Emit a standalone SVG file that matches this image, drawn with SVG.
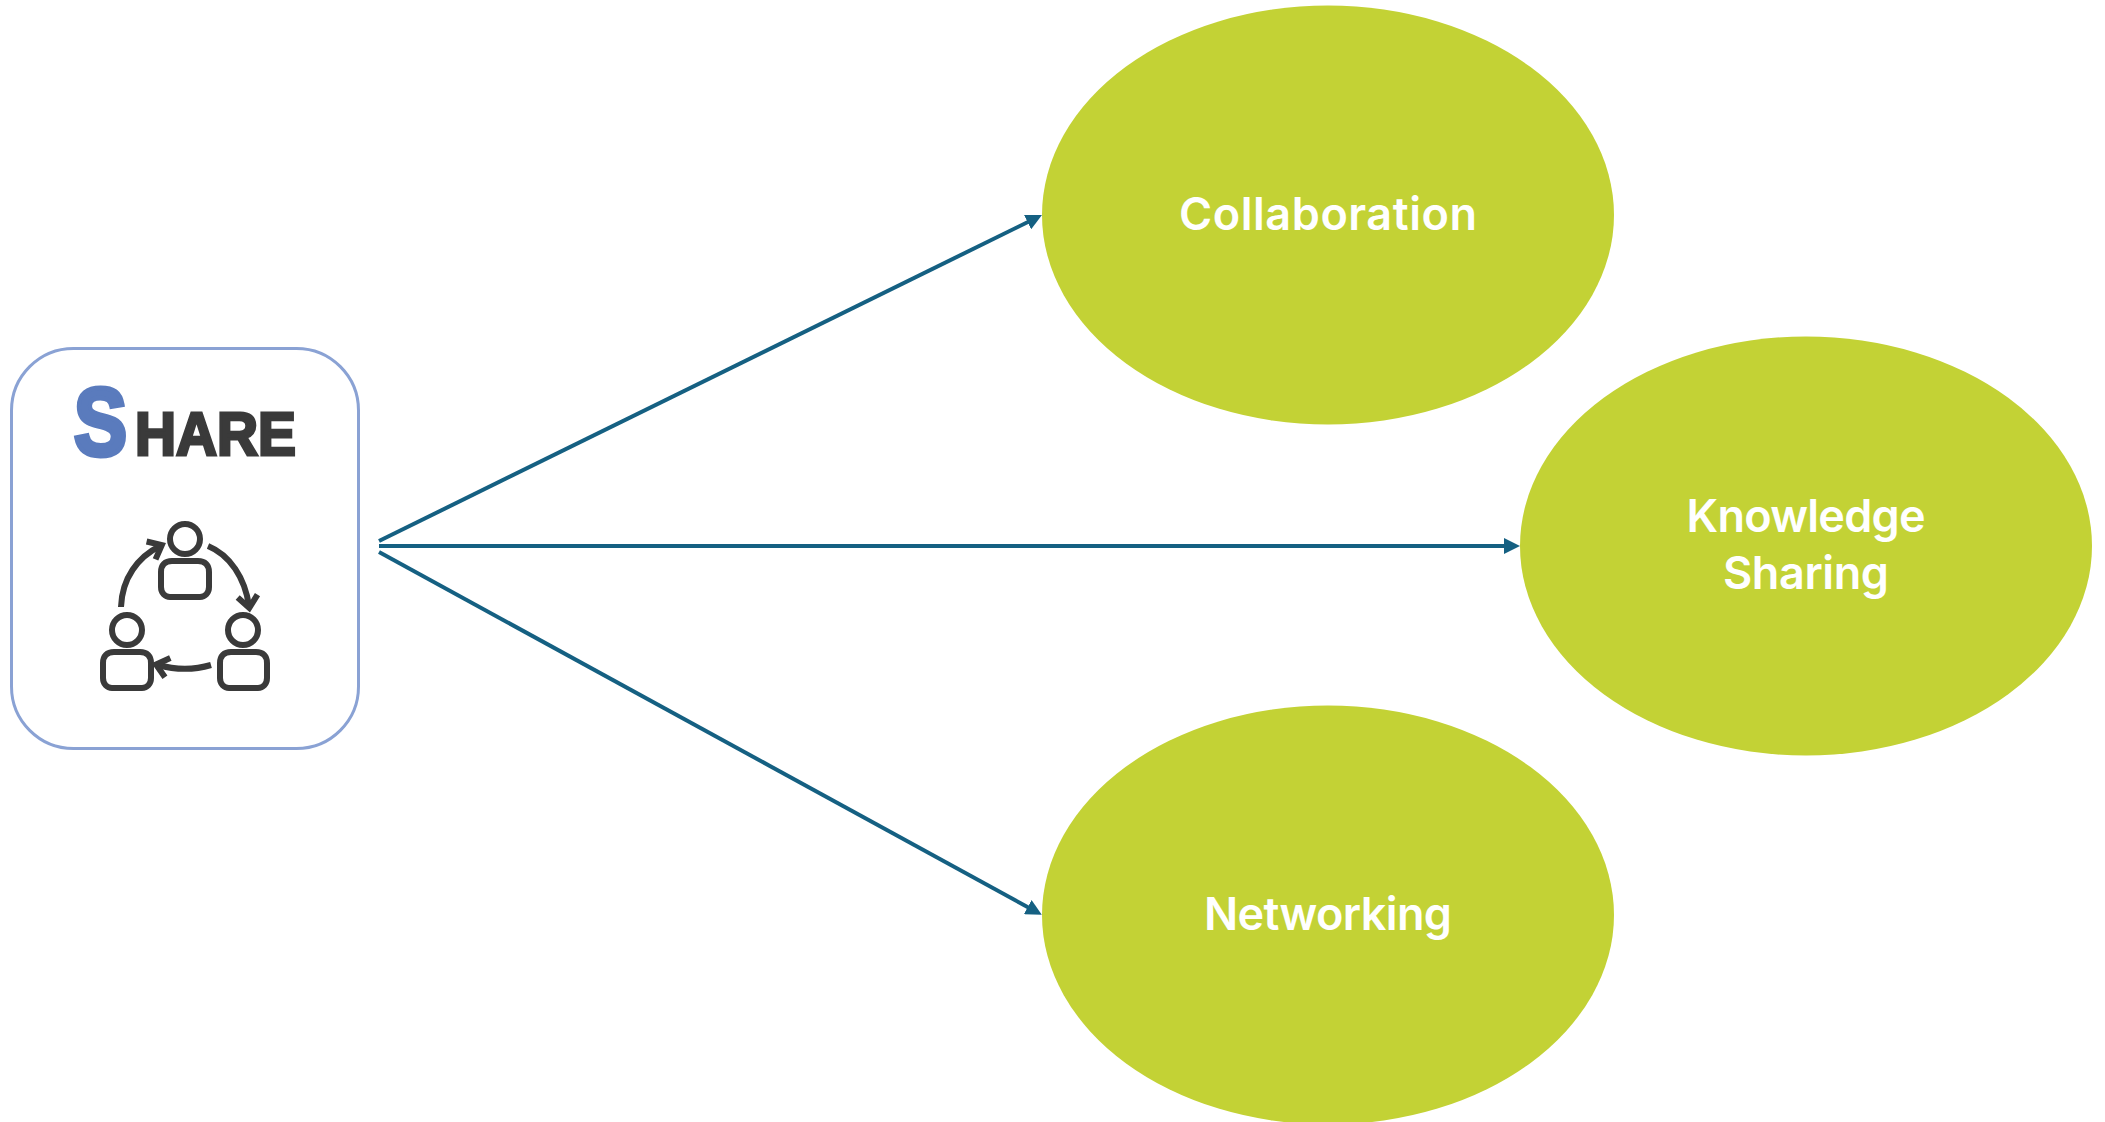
<svg xmlns="http://www.w3.org/2000/svg" width="2105" height="1122" viewBox="0 0 2105 1122">
<style>
.oval{fill:#c3d235}
.lbl{font-family:"Inter","Liberation Sans",sans-serif;font-weight:600;font-size:45px;fill:#fff;text-anchor:middle}
.conn{stroke:#156082;stroke-width:4;fill:none;marker-end:url(#arrow)}
.ico{fill:none;stroke:#3a3a3a;stroke-width:6}
.share{font-family:"Liberation Sans",sans-serif;font-weight:700}
</style>
<defs>
<marker id="arrow" markerUnits="userSpaceOnUse" markerWidth="16" markerHeight="16" refX="6" refY="8" orient="auto">
<path d="M0 0L16 8L0 16Z" fill="#156082"/>
</marker>
<marker id="ih" markerUnits="userSpaceOnUse" markerWidth="26" markerHeight="26" refX="14" refY="13" orient="auto">
<path d="M4 3L16 13L4 23" fill="none" stroke="#3a3a3a" stroke-width="6"/>
</marker>
</defs>
<rect width="2105" height="1122" fill="#fff"/>
<g id="connectors">
<line class="conn" x1="379" y1="541" x2="1033" y2="219.500"/>
<line class="conn" x1="379" y1="546" x2="1510" y2="546"/>
<line class="conn" x1="379" y1="552" x2="1033" y2="910"/>
</g>
<g id="node-share">
<rect x="11.500" y="348.500" width="347" height="400" rx="62" fill="#fff" stroke="#8aa2d4" stroke-width="3"/>
<text class="share" x="74" y="455" font-size="96" fill="#5a7bbd" stroke="#5a7bbd" stroke-width="5" textLength="53" lengthAdjust="spacingAndGlyphs">S</text>
<text class="share" x="135" y="455" font-size="61" fill="#3a3a3a" stroke="#3a3a3a" stroke-width="3" textLength="161" lengthAdjust="spacingAndGlyphs">HARE</text>
<g id="share-icon">
<circle class="ico" cx="185" cy="539" r="15"/>
<path class="ico" d="M172 561H198C205 561 209 565 209 572V587C209 593 205 597 200 597H170C165 597 161 593 161 587V572C161 565 165 561 172 561Z"/>
<circle class="ico" cx="127" cy="630" r="15"/>
<path class="ico" d="M114 652H140C147 652 151 656 151 663V678C151 684 147 688 142 688H112C107 688 103 684 103 678V663C103 656 107 652 114 652Z"/>
<circle class="ico" cx="243" cy="630" r="15"/>
<path class="ico" d="M231 652H256C263 652 267 656 267 663V678C267 684 263 688 258 688H229C224 688 220 684 220 678V663C220 656 224 652 231 652Z"/>
<path class="ico" marker-end="url(#ih)" d="M121 607C122 578 138 557 160 546"/>
<path class="ico" marker-end="url(#ih)" d="M208 546C230 555 245 578 249 606"/>
<path class="ico" marker-end="url(#ih)" d="M211 665C194 670 176 670 158 665"/>
</g>
</g>
<g id="node-collaboration">
<ellipse class="oval" cx="1328" cy="215" rx="286" ry="209.500"/>
<text class="lbl" x="1328" y="230" textLength="298">Collaboration</text>
</g>
<g id="node-knowledge-sharing">
<ellipse class="oval" cx="1806" cy="546" rx="286" ry="209.500"/>
<text class="lbl" x="1806" y="532" textLength="239">Knowledge</text>
<text class="lbl" x="1806" y="589" textLength="166">Sharing</text>
</g>
<g id="node-networking">
<ellipse class="oval" cx="1328" cy="915" rx="286" ry="209.500"/>
<text class="lbl" x="1328" y="930" textLength="248">Networking</text>
</g>
</svg>
